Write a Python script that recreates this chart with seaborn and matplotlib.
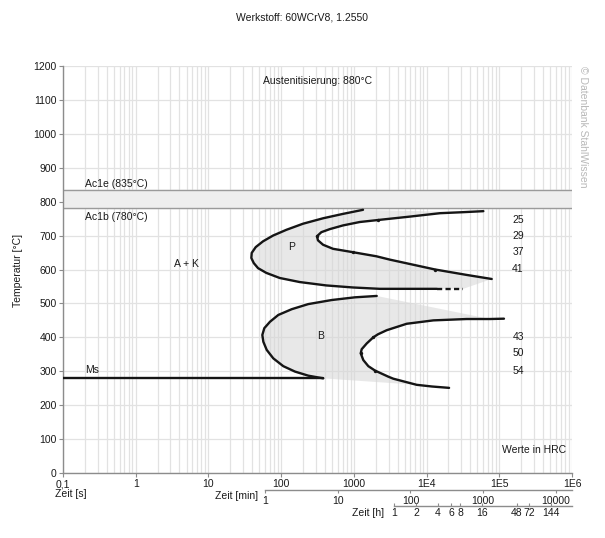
import numpy as np
import seaborn as sns
import matplotlib
matplotlib.use("Agg")
from matplotlib import pyplot as plt

# --- data (time in s, temperature in degC) ---
p_start_time = [1337, 710, 377, 200, 118, 77.3, 56.3, 44.7, 39.4, 38.9, 42.0, 48.1, 62.5,
                95.5, 180, 418, 973, 2270, 13800]
p_start_temp = [776, 764, 751, 735, 717, 700, 683, 666, 649, 634, 619, 604, 590,
                575, 563, 553, 547, 543, 543]
p_dash_time = [13800, 32000]
p_dash_temp = [543, 543]
p_end_time = [60400, 31700, 15300, 5920, 2170, 1204, 710, 466, 357, 311, 321, 377, 517,
              973, 2037, 3140, 13100, 35600, 78700]
p_end_temp = [772, 769, 766, 756, 746, 740, 730, 719, 710, 698, 686, 673, 661,
              651, 639, 629, 600, 584, 572]

b_start_time = [2063, 1037, 496, 236, 140, 91.4, 70.3, 58.7, 55.1, 56.9, 63.3, 78.0,
                107, 155, 236, 380]
b_start_temp = [522, 518, 510, 498, 483, 466, 446, 427, 407, 387, 363, 338,
                315, 299, 287, 279]
b_end_time = [116000, 74600, 35600, 12400, 5330, 2830, 2148, 1850, 1503, 1282, 1243, 1349,
              1581, 1954, 2978, 3490, 7310, 11900, 20400]
b_end_temp = [455, 454, 454, 450, 440, 421, 409, 400, 382, 365, 353, 333,
              315, 302, 284, 278, 260, 255, 251]

ms_time = [0.1, 380]
ms_temp = [280, 280]
ac1e, ac1b = 835, 780

hrc_time = [2170, 311, 973, 13100, 1850, 1243, 1954]
hrc_temp = [746, 698, 651, 600, 400, 353, 302]
hrc_values = ["25", "29", "37", "41", "43", "50", "54"]

sec_ticks = [0.1, 1, 10, 100, 1000, 1e4, 1e5, 1e6]
sec_labels = ["0,1", "1", "10", "100", "1000", "1E4", "1E5", "1E6"]
min_ticks = [1, 10, 100, 1000, 10000]
hour_ticks = [1, 2, 4, 6, 8, 16, 48, 72, 144]

sns.set_theme(style="white")
plt.rcParams['font.family'] = ['Liberation Sans', 'DejaVu Sans']
fs = 7.5
txt = '#1a1a1a'
grid_c = '#e2e2e2'
axis_c = '#8c8c8c'

fig = plt.figure(figsize=(6.05, 5.38), dpi=100)
W, H = 605, 538
ax = fig.add_axes([63 / W, 1 - 473 / H, 509 / W, 407 / H])
ax.set_xscale('log')
ax.set_xlim(0.1, 1e6)
ax.set_ylim(0, 1200)

# grid
ax.set_yticks(range(0, 1201, 100))
ax.set_xticks(sec_ticks)
ax.set_xticklabels(sec_labels)
ax.xaxis.set_minor_locator(matplotlib.ticker.LogLocator(base=10, subs=np.arange(2, 10)))
ax.xaxis.set_minor_formatter(matplotlib.ticker.NullFormatter())
ax.grid(True, which='major', color=grid_c, lw=0.9)
ax.grid(True, which='minor', axis='x', color=grid_c, lw=0.9)
ax.set_axisbelow(True)
for s in ['top', 'right']:
    ax.spines[s].set_visible(False)
for s in ['left', 'bottom']:
    ax.spines[s].set_color(axis_c)
    ax.spines[s].set_linewidth(1.0)
ax.tick_params(axis='both', which='major', labelsize=fs, colors=axis_c, labelcolor=txt,
               length=3, width=0.8, pad=1.5, direction='out', left=True, bottom=True)
ax.tick_params(axis='x', which='minor', length=0)
ax.set_xlabel('')
ax.set_ylabel('')

# Ac1 band
ax.axhspan(ac1b, ac1e, color='#eeeeee', zorder=1)
ax.axhline(ac1e, color='#9a9a9a', lw=1.0, zorder=2)
ax.axhline(ac1b, color='#9a9a9a', lw=1.0, zorder=2)

# shaded regions
p_poly_t = p_start_time + p_dash_time[1:] + p_end_time[::-1][:-1]
p_poly_T = p_start_temp + p_dash_temp[1:] + p_end_temp[::-1][:-1]
ax.fill(p_poly_t, p_poly_T, color='#d6d6d6', alpha=0.55, lw=0, zorder=2)
b_poly_t = b_start_time + b_end_time[::-1][2:-1]
b_poly_T = b_start_temp + b_end_temp[::-1][2:-1]
ax.fill(b_poly_t, b_poly_T, color='#d6d6d6', alpha=0.55, lw=0, zorder=2)

# curves
lc = '#151515'
for t, T in [(p_start_time, p_start_temp), (p_end_time, p_end_temp),
             (b_start_time, b_start_temp), (b_end_time, b_end_temp), (ms_time, ms_temp)]:
    sns.lineplot(x=t, y=T, sort=False, estimator=None, ax=ax, color=lc, lw=1.7, zorder=4)
ax.plot(p_dash_time, p_dash_temp, color=lc, lw=1.7, dashes=(2.2, 1.4), zorder=4)
sns.scatterplot(x=hrc_time, y=hrc_temp, ax=ax, color=lc, s=6, linewidth=0, zorder=5)

for v, T in zip(hrc_values, hrc_temp):
    ax.text(1.81e5, T, v, ha='center', va='center', fontsize=fs, color=txt)

ax.text(137, 666, 'P', ha='center', va='center', fontsize=fs, color=txt)
ax.text(343, 404, 'B', ha='center', va='center', fontsize=fs, color=txt)
ax.text(5.0, 616, 'A + K', ha='center', va='center', fontsize=fs, color=txt)
ax.text(0.2, 305, 'Ms', ha='left', va='center', fontsize=fs, color=txt)
ax.text(0.2, 852, 'Ac1e (835°C)', ha='left', va='center', fontsize=fs, color=txt)
ax.text(0.2, 754, 'Ac1b (780°C)', ha='left', va='center', fontsize=fs, color=txt)
ax.text(321, 1156, 'Austenitisierung: 880°C', ha='center', va='center', fontsize=fs, color=txt)
ax.text(8.3e5, 68, 'Werte in HRC', ha='right', va='center', fontsize=fs, color=txt)

# secondary time axes (minutes, hours)
def time_axis(y_px, div, ticks, direction):
    a = fig.add_axes([63 / W, 1 - y_px / H, 509 / W, 0.001])
    a.set_xscale('log')
    a.set_xlim(0.1 / div, 1e6 / div)
    a.patch.set_visible(False)
    a.grid(False)
    for s in ['top', 'right', 'left']:
        a.spines[s].set_visible(False)
    a.spines['bottom'].set_color(axis_c)
    a.spines['bottom'].set_linewidth(1.0)
    a.spines['bottom'].set_bounds(1, 1e6 / div)
    a.set_yticks([])
    a.set_xticks(ticks)
    a.set_xticklabels([str(v) for v in ticks])
    a.xaxis.set_minor_locator(matplotlib.ticker.NullLocator())
    a.tick_params(axis='x', labelsize=fs, colors=axis_c, labelcolor=txt, length=2.5,
                  width=0.8, direction=direction, pad=1.5, bottom=True)
    return a

time_axis(490, 60, min_ticks, 'out')
time_axis(505.5, 3600, hour_ticks, 'in')

fig.text(55 / W, 1 - 494 / H, 'Zeit [s]', ha='left', va='center', fontsize=fs, color=txt)
fig.text(258 / W, 1 - 496 / H, 'Zeit [min]', ha='right', va='center', fontsize=fs, color=txt)
fig.text(384 / W, 1 - 513 / H, 'Zeit [h]', ha='right', va='center', fontsize=fs, color=txt)
fig.text(18 / W, 1 - 270 / H, 'Temperatur [°C]', rotation=90, ha='center', va='center',
         fontsize=fs, color=txt)
fig.text(302 / W, 1 - 18 / H, 'Werkstoff: 60WCrV8, 1.2550', ha='center', va='center',
         fontsize=fs, color=txt)
fig.text(583 / W, 1 - 66 / H, '© Datenbank StahlWissen', rotation=-90, ha='center', va='top',
         fontsize=fs, color='#b8b8b8')

fig.savefig('out.png', dpi=100)
